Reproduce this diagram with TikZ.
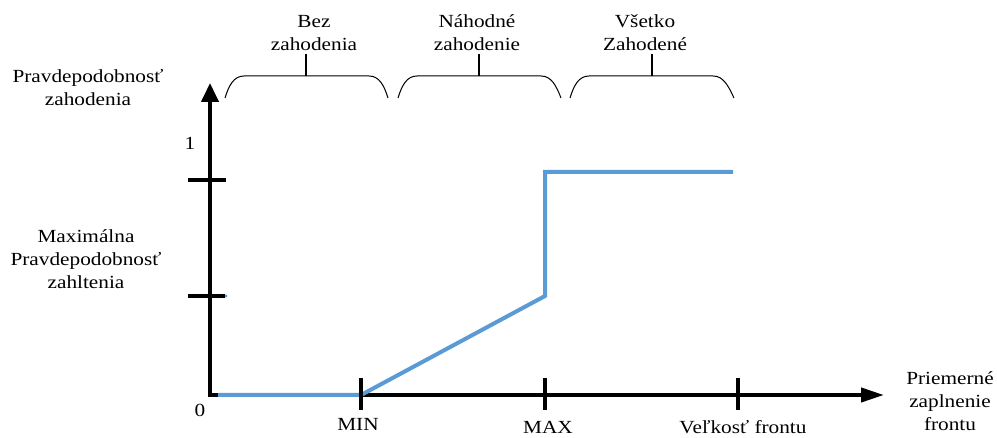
\documentclass[tikz,border=0pt]{standalone}
\usepackage{fontspec}
\setmainfont{Liberation Serif}[FakeStretch=1.15]
\usetikzlibrary{arrows.meta}
\definecolor{curveblue}{RGB}{91,155,213}
\begin{document}
\begin{tikzpicture}[x=1pt,y=-1pt,
  lbl/.style={font=\fontsize{18.5}{23}\selectfont, align=center, inner sep=0pt},
  axisline/.style={line width=4pt, line join=miter},
  tickline/.style={line width=3.5pt},
  curve/.style={line width=4pt, draw=curveblue, line join=miter},
  bracket/.style={line width=1pt},
  stick/.style={line width=1.6pt},
]
\useasboundingbox (0,0) rectangle (997,438);

% axes
\coordinate (O) at (210,395);
\coordinate (ytop) at (210,83);
\coordinate (xend) at (884,395);
\draw[axisline, {Triangle[length=19pt,width=17pt]}-{Triangle[length=23pt,width=14pt]}]
  (ytop) -- (O) -- (xend);

% probability curve
\coordinate (c0) at (218,395);
\coordinate (cmin) at (361,395);
\coordinate (cmaxlo) at (545,296);
\coordinate (cmaxhi) at (545,172);
\coordinate (cend) at (733,172);
\draw[curve] (c0) -- (cmin) -- (cmaxlo) -- (cmaxhi) -- (cend);
\fill[curveblue] (226,296) circle (1.6pt);

% ticks on the vertical axis
\coordinate (t1a) at (188,180); \coordinate (t1b) at (226,180);
\coordinate (t2a) at (188,296); \coordinate (t2b) at (225,296);
\draw[tickline] (t1a) -- (t1b);
\draw[tickline] (t2a) -- (t2b);

% ticks on the horizontal axis
\coordinate (m1a) at (361,378); \coordinate (m1b) at (361,410);
\coordinate (m2a) at (545,378); \coordinate (m2b) at (545,410);
\coordinate (m3a) at (738,378); \coordinate (m3b) at (738,410);
\draw[tickline] (m1a) -- (m1b);
\draw[tickline] (m2a) -- (m2b);
\draw[tickline] (m3a) -- (m3b);

% axis labels
\node[lbl] (ylab) at (88,88) {Pravdepodobnosť\\zahodenia};
\node[lbl] (maxlab) at (86,259) {Maximálna\\Pravdepodobnosť\\zahltenia};
\node[lbl] (one) at (190,143) {1};
\node[lbl] (zero) at (200,410) {0};
\node[lbl] (minlab) at (358,424) {MIN};
\node[lbl] (maxtick) at (548,427) {MAX};
\node[lbl] (qsize) at (743,427) {Veľkosť frontu};
\node[lbl] (xlab) at (950,401) {Priemerné\\zaplnenie\\frontu};

% region labels with their brackets
\node[lbl] (r1) at (314,33) {Bez\\zahodenia};
\node[lbl] (r2) at (477,33) {Náhodné\\zahodenie};
\node[lbl] (r3) at (645,33) {Všetko\\Zahodené};

\draw[bracket] (225,98) .. controls (229,85) and (234,76) .. (244,76)
  -- (369,76) .. controls (379,76) and (384,85) .. (388,98);
\draw[bracket] (398,98) .. controls (402,85) and (407,76) .. (417,76)
  -- (541,76) .. controls (551,76) and (556,85) .. (561,98);
\draw[bracket] (570,98) .. controls (574,85) and (579,76) .. (589,76)
  -- (713,76) .. controls (723,76) and (728,85) .. (734,98);

\coordinate (s1a) at (306,54); \coordinate (s1b) at (306,76);
\coordinate (s2a) at (479,54); \coordinate (s2b) at (479,76);
\coordinate (s3a) at (652,54); \coordinate (s3b) at (652,76);
\draw[stick] (s1a) -- (s1b);
\draw[stick] (s2a) -- (s2b);
\draw[stick] (s3a) -- (s3b);
\end{tikzpicture}
\end{document}
